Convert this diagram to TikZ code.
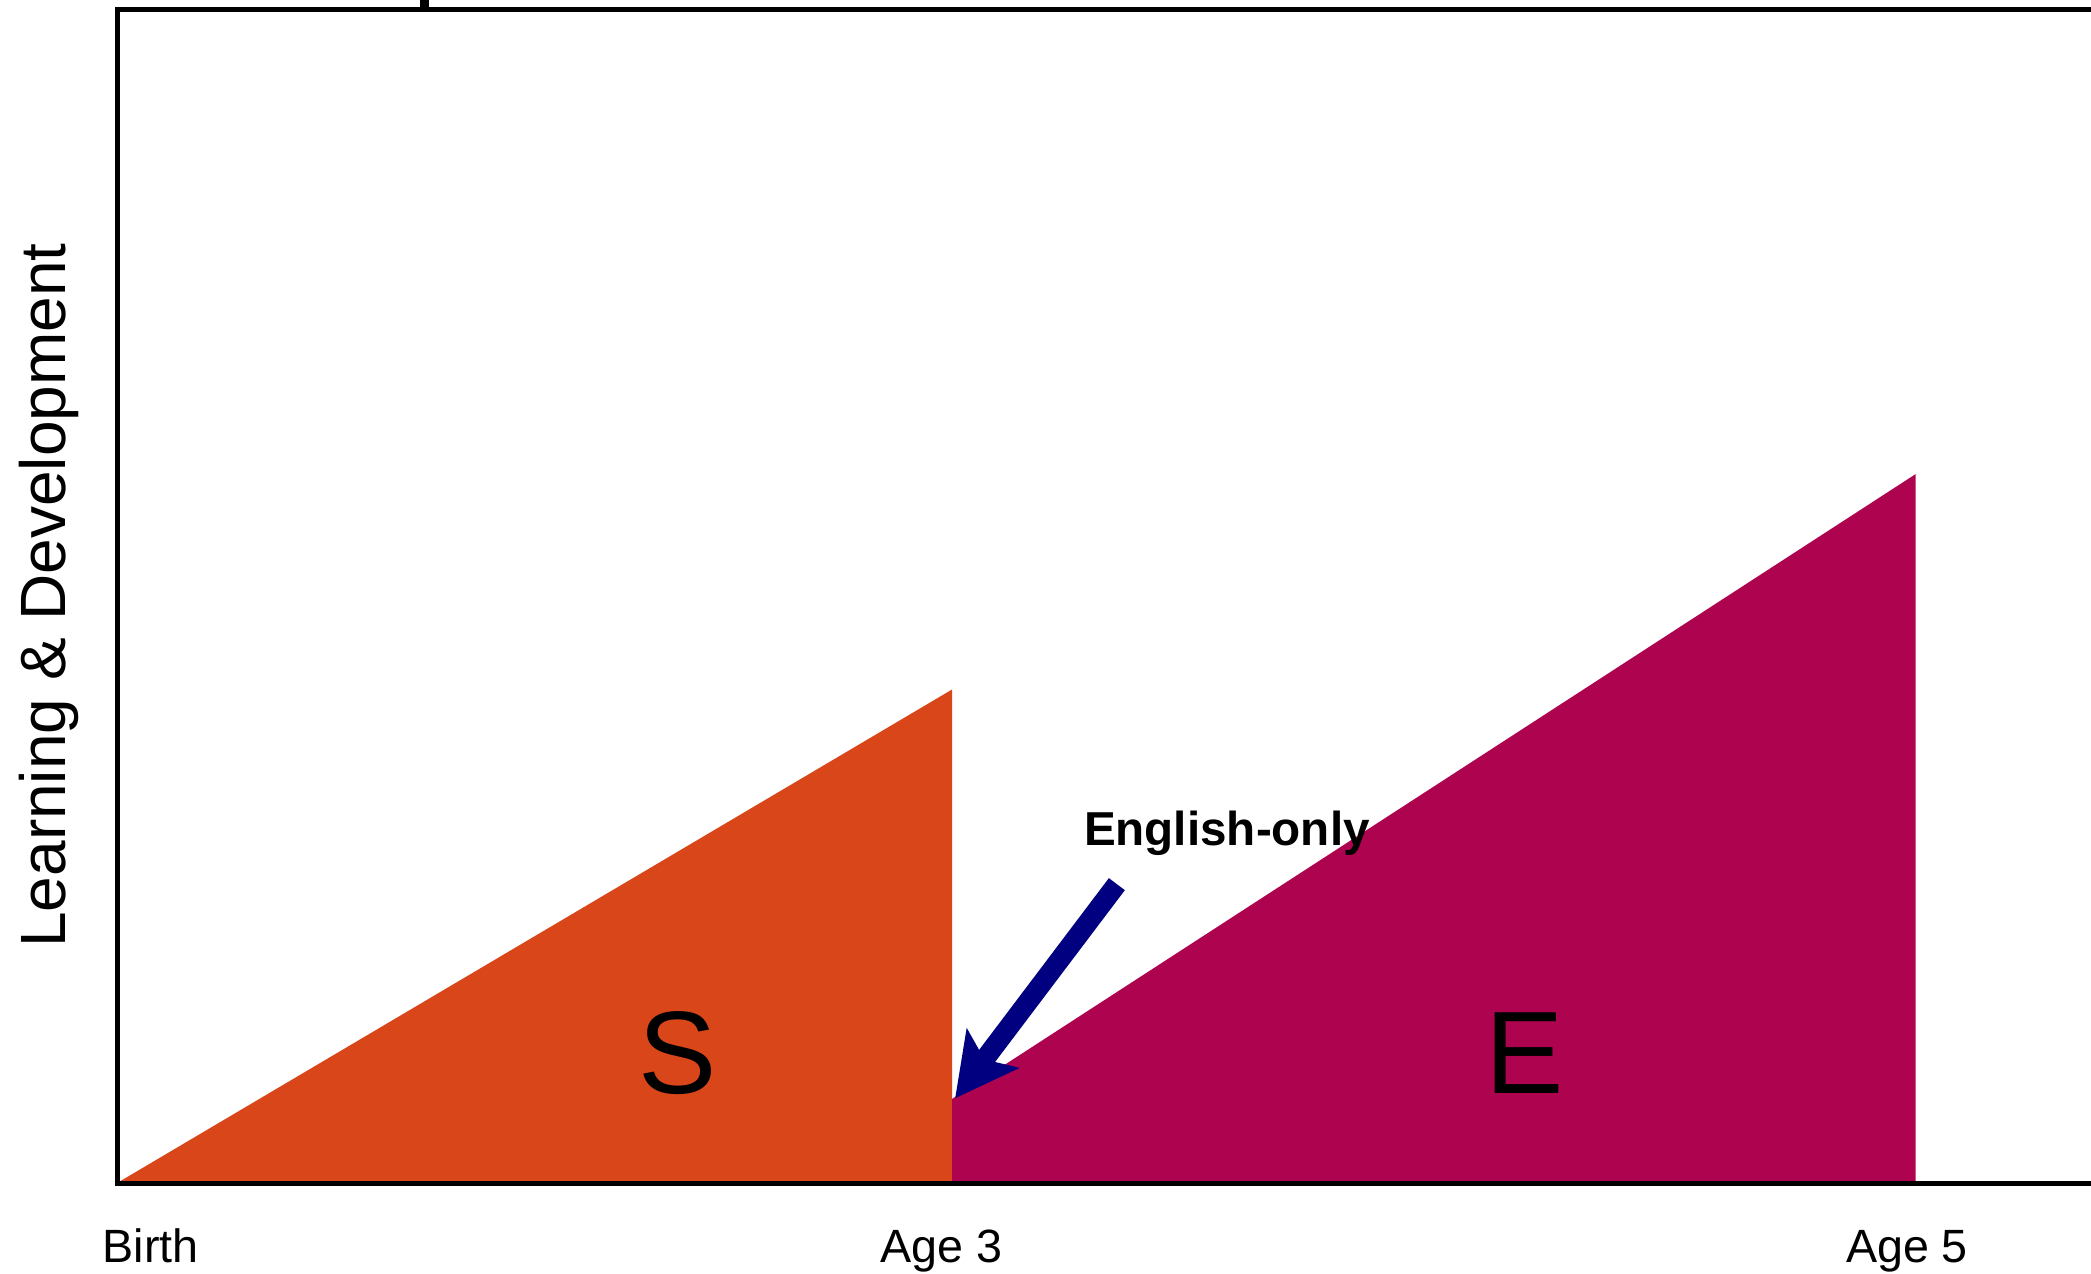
\documentclass[tikz,border=0pt]{standalone}
\usepackage{fontspec}
\setmainfont{Liberation Sans}
\usetikzlibrary{arrows.meta}
\definecolor{sorange}{RGB}{217,70,26}
\definecolor{emagenta}{RGB}{174,4,80}
\definecolor{arrownavy}{RGB}{0,0,128}
\tikzset{
  lbl/.style={font=\fontsize{35}{40}\selectfont, inner sep=0pt, anchor=base},
  big/.style={font=\fontsize{88}{96}\selectfont, inner sep=0pt, anchor=base},
  framel/.style={line width=4pt, black},
}
\begin{document}
\begin{tikzpicture}[x=1pt,y=-1pt]
\useasboundingbox (0,0) rectangle (1568,955);
\clip (0,0) rectangle (1568,955);
\fill[white] (0,0) rectangle (1568,955);
% fills
\fill[sorange] (88,887) -- (714,517) -- (714,887) -- cycle;
\fill[emagenta] (714,824) -- (1436.5,355.5) -- (1436.5,887) -- (714,887) -- cycle;
% frame
\draw[framel] (1590,7.3) -- (88,7.3) -- (88,887.4) -- (1590,887.4);
\fill[black] (315,-2) rectangle (322,8);
% letters
\node[big] (S) at (508,820) {S};
\node[big] (E) at (1143,820) {E};
% arrow
\node[font=\bfseries\fontsize{35.7}{40}\selectfont, inner sep=0pt, anchor=base] (eo) at (920,634) {English-only};
\coordinate (tail) at (837.5,663);
\coordinate (tip) at (716.2,823.6);
\draw[arrownavy, line width=15pt, -{Stealth[length=46.5pt, width=48pt, inset=10pt]}] (tail) -- (tip);
% axis labels
\node[lbl] (birth) at (113,947) {Birth};
\node[lbl] (age3) at (706,947) {Age 3};
\node[lbl] (age5) at (1430,947) {Age 5};
\node[font=\fontsize{48}{52}\selectfont, inner sep=0pt, rotate=90, anchor=base] (yl) at (49.4,446.5) {Learning \& Development};
\end{tikzpicture}
\end{document}
